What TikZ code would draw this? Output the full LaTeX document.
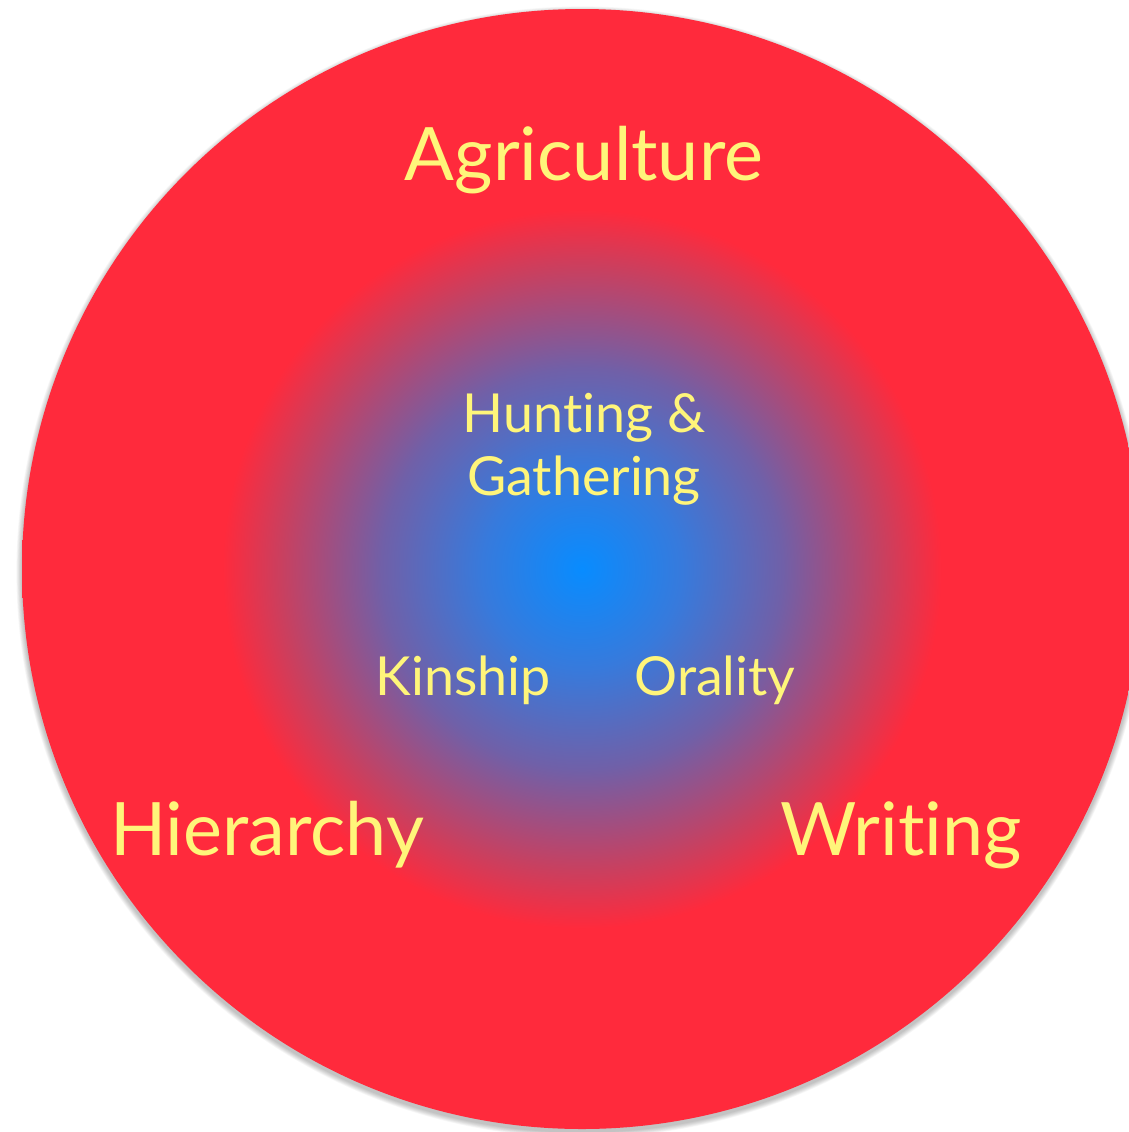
\documentclass[tikz,border=0pt]{standalone}
\usepackage{fontspec}
\setmainfont{Lato}[Ligatures={NoCommon}]
\definecolor{bred}{RGB}{255,42,60}
\definecolor{bblue}{RGB}{8,140,255}
\definecolor{txtyel}{RGB}{255,245,122}
\pgfdeclareradialshading{core}{\pgfpoint{0bp}{0bp}}{%
  color(0bp)=(bblue);
  color(4.45bp)=(rgb,255:red,55;green,122;blue,220);
  color(8.95bp)=(rgb,255:red,112;green,96;blue,168);
  color(13.4bp)=(rgb,255:red,200;green,64;blue,96);
  color(16.05bp)=(bred);
  color(80bp)=(bred)}
\tikzset{
  big/.style={text=txtyel, font=\fontsize{74}{80}\selectfont, anchor=base, inner sep=0pt},
  small/.style={text=txtyel, font=\fontsize{54}{60}\selectfont, anchor=base, inner sep=0pt}
}
\begin{document}
\begin{tikzpicture}[x=1bp,y=-1bp]
\useasboundingbox (0,0) rectangle (1129,1132);
\clip (0,0) rectangle (1129,1132);
\fill[white] (0,0) rectangle (1129,1132);
\coordinate (c) at (582,569);
\foreach \i in {1,...,8}{
  \fill[black, opacity=0.03] ([yshift=-3bp]c) circle ({560+\i*0.7});
}
\shade[shading=core] (c) circle (560);
\node[big] (agri) at (584,180) {Agriculture};
\node[small] (hunt) at (584,432) {Hunting \&};
\node[small] (gath) at (584,495) {Gathering};
\node[small] (kin) at (463,695) {Kinship};
\node[small] (oral) at (715,695) {Orality};
\node[big] (hier) at (267,855) {Hierarchy};
\node[big] (writ) at (901,855) {Writing};
\end{tikzpicture}
\end{document}
